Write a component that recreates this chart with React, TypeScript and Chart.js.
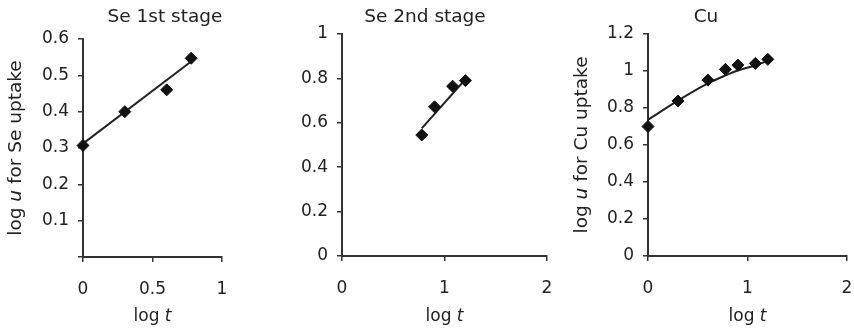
import React, { useEffect, useRef } from 'react';
import { Chart, registerables } from 'chart.js';

Chart.register(...registerables);

const FONT = "'DejaVu Sans', 'Liberation Sans', sans-serif";
const INK = '#222222';

// ---- Panel 1: Se 1st stage ----
const se1Title = 'Se 1st stage';
const se1LogT = [0, 0.301, 0.602, 0.778];
const se1LogU = [0.307, 0.4, 0.46, 0.547];
const se1TrendLogT = [0, 0.778];
const se1TrendLogU = [0.312, 0.538];
const se1XTicks = [0, 0.5, 1];
const se1YTicks = [0, 0.1, 0.2, 0.3, 0.4, 0.5, 0.6];

// ---- Panel 2: Se 2nd stage ----
const se2Title = 'Se 2nd stage';
const se2LogT = [0.778, 0.903, 1.079, 1.204];
const se2LogU = [0.545, 0.672, 0.765, 0.79];
const se2TrendLogT = [0.778, 1.204];
const se2TrendLogU = [0.575, 0.796];
const se2XTicks = [0, 1, 2];
const se2YTicks = [0, 0.2, 0.4, 0.6, 0.8, 1];

// ---- Panel 3: Cu ----
const cuTitle = 'Cu';
const cuLogT = [0, 0.301, 0.602, 0.778, 0.903, 1.079, 1.204];
const cuLogU = [0.7, 0.838, 0.951, 1.009, 1.032, 1.041, 1.063];
const cuTrendLogT = [0, 0.301, 0.602, 0.778, 0.903, 1.079, 1.204];
const cuTrendLogU = [0.736, 0.84, 0.933, 0.976, 1.003, 1.03, 1.055];
const cuXTicks = [0, 1, 2];
const cuYTicks = [0, 0.2, 0.4, 0.6, 0.8, 1, 1.2];

type Part = { text: string; italic?: boolean };

const xTitleParts: Part[] = [{ text: 'log ' }, { text: 't', italic: true }];
const seYTitleParts: Part[] = [{ text: 'log ' }, { text: 'u', italic: true }, { text: ' for Se uptake' }];
const cuYTitleParts: Part[] = [{ text: 'log ' }, { text: 'u', italic: true }, { text: ' for Cu uptake' }];

function makeTextPlugin(
  title: string,
  titleX: number,
  xParts: Part[] | null,
  xBaseline: number,
  yParts: Part[] | null,
  yBaseline: number
) {
  return {
    id: 'panelTexts',
    afterDraw(chart: any) {
      const ctx = chart.ctx as CanvasRenderingContext2D;
      const ca = chart.chartArea;
      const drawParts = (parts: Part[], size: number, cx: number, y: number) => {
        const widths = parts.map((p) => {
          ctx.font = `${p.italic ? 'italic ' : ''}${size}px ${FONT}`;
          return ctx.measureText(p.text).width;
        });
        const total = widths.reduce((a, b) => a + b, 0);
        let x = cx - total / 2;
        parts.forEach((p, i) => {
          ctx.font = `${p.italic ? 'italic ' : ''}${size}px ${FONT}`;
          ctx.fillText(p.text, x, y);
          x += widths[i];
        });
      };
      ctx.save();
      ctx.fillStyle = INK;
      ctx.textAlign = 'left';
      ctx.textBaseline = 'alphabetic';
      drawParts([{ text: title }], 18.5, titleX, 22);
      if (xParts) {
        drawParts(xParts, 17, (ca.left + ca.right) / 2, xBaseline);
      }
      if (yParts) {
        ctx.translate(yBaseline, (ca.top + ca.bottom) / 2);
        ctx.rotate(-Math.PI / 2);
        drawParts(yParts, 18.5, 0, 0);
      }
      ctx.restore();
    },
  };
}

type PanelProps = {
  title: string;
  titleX: number;
  logT: number[];
  logU: number[];
  trendT: number[];
  trendU: number[];
  xTicks: number[];
  yTicks: number[];
  hideZeroY: boolean;
  left: number;
  width: number;
  yAxisWidth: number;
  xAxisHeight: number;
  rightPad: number;
  topPad: number;
  yTitle: Part[] | null;
  yTitleBaseline: number;
  smooth: boolean;
};

const HEIGHT = 334;

function Panel(p: PanelProps) {
  const ref = useRef<HTMLCanvasElement | null>(null);
  useEffect(() => {
    if (!ref.current) return;
    const fmt = (v: number) => String(Number(Number(v).toFixed(2)));
    const chart = new Chart(ref.current, {
      type: 'scatter',
      data: {
        datasets: [
          {
            data: p.trendT.map((t, i) => ({ x: t, y: p.trendU[i] })),
            showLine: true,
            borderColor: INK,
            borderWidth: 2,
            pointRadius: 0,
            tension: p.smooth ? 0.4 : 0,
            cubicInterpolationMode: p.smooth ? 'monotone' : 'default',
            clip: false,
            order: 2,
          },
          {
            data: p.logT.map((t, i) => ({ x: t, y: p.logU[i] })),
            pointStyle: 'rectRot',
            pointRadius: 6,
            backgroundColor: '#111111',
            borderColor: '#111111',
            borderWidth: 1,
            showLine: false,
            clip: false,
            order: 1,
          },
        ],
      },
      options: {
        responsive: false,
        animation: false,
        devicePixelRatio: 1,
        layout: { padding: { left: 0, right: p.rightPad, top: p.topPad, bottom: 0 } },
        plugins: {
          legend: { display: false },
          tooltip: { enabled: false },
          title: { display: false },
        },
        scales: {
          x: {
            type: 'linear',
            min: p.xTicks[0],
            max: p.xTicks[p.xTicks.length - 1],
            afterBuildTicks: (s: any) => {
              s.ticks = p.xTicks.map((v) => ({ value: v }));
            },
            afterFit: (s: any) => {
              s.height = p.xAxisHeight;
              s.paddingLeft = 0;
              s.paddingRight = 0;
            },
            ticks: {
              color: INK,
              font: { family: FONT, size: 17 },
              padding: 17,
              maxRotation: 0,
              autoSkip: false,
              callback: (v: any) => fmt(v),
            },
            grid: { drawOnChartArea: false, drawTicks: true, tickLength: 5, color: '#333333', lineWidth: 1.5 },
            border: { display: true, color: '#333333', width: 2 },
          },
          y: {
            type: 'linear',
            min: p.yTicks[0],
            max: p.yTicks[p.yTicks.length - 1],
            afterBuildTicks: (s: any) => {
              s.ticks = p.yTicks.map((v) => ({ value: v }));
            },
            afterFit: (s: any) => {
              s.width = p.yAxisWidth;
              s.paddingTop = 0;
              s.paddingBottom = 0;
            },
            ticks: {
              color: INK,
              font: { family: FONT, size: 17 },
              padding: 9,
              autoSkip: false,
              callback: (v: any) => (p.hideZeroY && Number(v) === 0 ? '' : fmt(v)),
            },
            grid: { drawOnChartArea: false, drawTicks: true, tickLength: 5, color: '#333333', lineWidth: 1.5 },
            border: { display: true, color: '#333333', width: 2 },
          },
        },
      } as any,
      plugins: [makeTextPlugin(p.title, p.titleX, xTitleParts, 321, p.yTitle, p.yTitleBaseline)],
    });
    return () => chart.destroy();
  }, []);
  return (
    <canvas
      ref={ref}
      width={p.width}
      height={HEIGHT}
      style={{ position: 'absolute', left: p.left, top: 0, width: p.width, height: HEIGHT }}
    />
  );
}

export default function App() {
  return (
    <div
      style={{
        position: 'fixed',
        left: 0,
        top: 0,
        width: 854,
        height: HEIGHT,
        background: '#ffffff',
        overflow: 'hidden',
      }}
    >
      <Panel
        title={se1Title}
        titleX={165}
        logT={se1LogT}
        logU={se1LogU}
        trendT={se1TrendLogT}
        trendU={se1TrendLogU}
        xTicks={se1XTicks}
        yTicks={se1YTicks}
        hideZeroY={true}
        left={0}
        width={300}
        yAxisWidth={83}
        xAxisHeight={77}
        rightPad={78}
        topPad={39}
        yTitle={seYTitleParts}
        yTitleBaseline={20.5}
        smooth={false}
      />
      <Panel
        title={se2Title}
        titleX={135}
        logT={se2LogT}
        logU={se2LogU}
        trendT={se2TrendLogT}
        trendU={se2TrendLogU}
        xTicks={se2XTicks}
        yTicks={se2YTicks}
        hideZeroY={false}
        left={290}
        width={270}
        yAxisWidth={52}
        xAxisHeight={78}
        rightPad={13}
        topPad={34}
        yTitle={null}
        yTitleBaseline={0}
        smooth={false}
      />
      <Panel
        title={cuTitle}
        titleX={148}
        logT={cuLogT}
        logU={cuLogU}
        trendT={cuTrendLogT}
        trendU={cuTrendLogU}
        xTicks={cuXTicks}
        yTicks={cuYTicks}
        hideZeroY={false}
        left={558}
        width={296}
        yAxisWidth={90}
        xAxisHeight={78}
        rightPad={3}
        topPad={34}
        yTitle={cuYTitleParts}
        yTitleBaseline={29}
        smooth={true}
      />
    </div>
  );
}
